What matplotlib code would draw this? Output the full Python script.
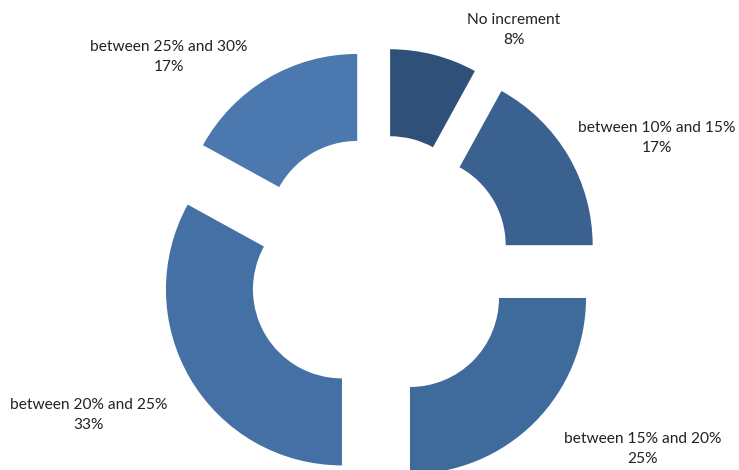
import matplotlib.pyplot as plt

labels = ["No increment", "between 10% and 15%", "between 15% and 20%",
          "between 20% and 25%", "between 25% and 30%"]
shares = [8, 17, 25, 33, 17]
colors = ["#2F5179", "#3A6190", "#3F6A9C", "#4470A6", "#4A78AF"]

# label block centres in pixel coords (from top-left)
label_pos = [(514, 30), (657, 138), (643, 449), (89, 415), (169, 57)]

W, H = 739, 470
fig = plt.figure(figsize=(W / 100, H / 100), dpi=100)
ax = fig.add_axes([0, 0, 1, 1])

cx, cy = 379.3, H - 267.3
r_out = 176
gap = 43.4
ax.pie(shares, colors=colors, startangle=90, counterclock=False,
       center=(cx, cy), radius=r_out, explode=[gap] * len(shares),
       wedgeprops=dict(width=87, linewidth=0))

for lab, s, (px, py) in zip(labels, shares, label_pos):
    ax.text(px, H - py, lab + "\n" + str(s) + "%", ha="center", va="center",
            fontsize=11.2, family="Lato", color="#222222", linespacing=1.5)

ax.set_xlim(0, W)
ax.set_ylim(0, H)
ax.set_aspect("auto")
ax.axis("off")
fig.savefig("out.png", dpi=100)
